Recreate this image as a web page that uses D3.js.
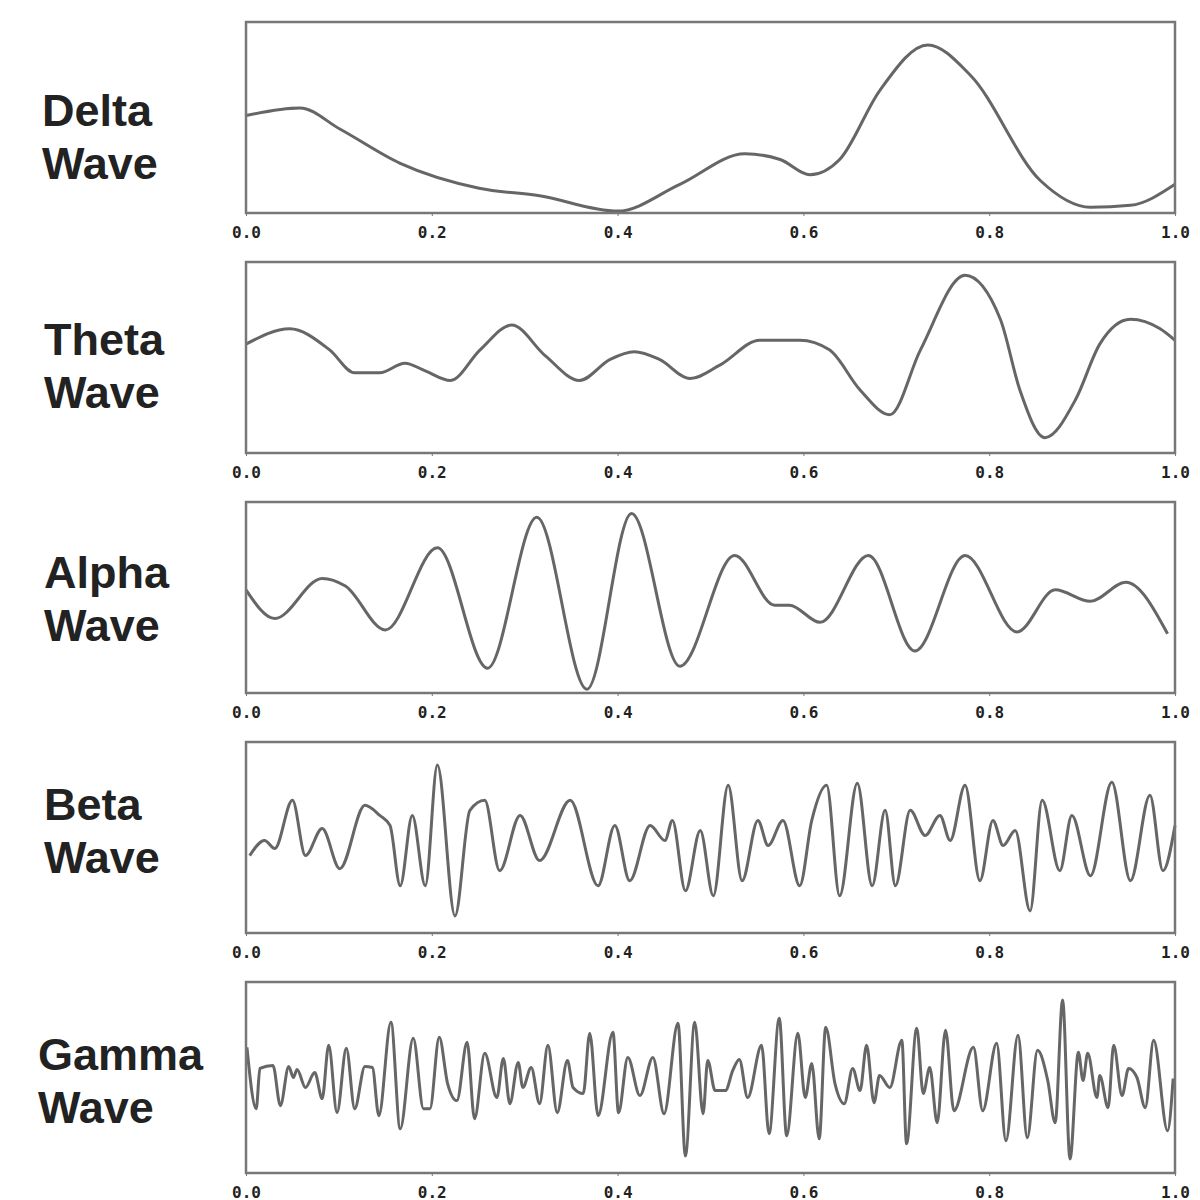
<!DOCTYPE html>
<meta charset="utf-8">
<script src="https://d3js.org/d3.v7.min.js"></script>
<style>
  body { margin: 0; background: #fff; }
  .name { font-family: "Liberation Sans", Arial, sans-serif; font-size: 45px; font-weight: bold; fill: #222; }
  .tick text { font-family: "DejaVu Sans Mono", monospace; font-weight: bold; font-size: 16px; fill: #222; }
</style>
<div id="chart"></div>
<script>
// time in ms (0..1000), amplitude in arbitrary units
var deltaPts = [[0,51],[58,55],[101,44],[166,26],[251,13],[316,9],[400,1],[467,15],[537,31],[575,28],[607,20],[639,28],[682,64],[734,88],[780,72],[855,17],[909,3],[952,4],[1000,15]];
var thetaPts = [[0,57],[47,65],[90,54],[117,42],[144,42],[171,47],[193,43],[220,38],[252,54],[286,67],[322,51],[359,38],[392,49],[418,53],[445,49],[478,39],[510,46],[553,59],[596,59],[628,54],[661,33],[693,20],[726,54],[774,93],[812,70],[833,33],[860,8],[893,28],[919,57],[952,70],[984,65],[1000,59]];
var alphaPts = [[0,54],[31,39],[82,60],[107,56],[150,33],[206,76],[260,13],[313,92],[367,2],[415,94],[467,14],[526,72],[569,46],[585,46],[618,37],[670,72],[720,22],[774,72],[830,32],[871,54],[909,48],[947,58],[992,31]];
var betaPts = [[4,-18],[20,-3],[31,-11],[50,37],[64,-18],[82,9],[101,-31],[128,32],[144,22],[155,12],[166,-48],[179,22],[193,-48],[206,72],[225,-78],[241,27],[257,37],[273,-33],[295,22],[316,-23],[349,37],[379,-48],[397,12],[413,-43],[435,12],[451,-3],[459,17],[473,-53],[489,7],[503,-58],[519,52],[534,-43],[551,17],[562,-8],[578,17],[596,-48],[609,17],[625,52],[639,-58],[658,54],[674,-48],[688,27],[699,-48],[715,27],[731,2],[747,22],[758,-3],[774,52],[790,-43],[804,17],[815,-8],[828,7],[844,-73],[857,37],[876,-33],[889,22],[909,-38],[932,55],[952,-43],[973,42],[987,-33],[1000,12]];
var gammaPts = [[1,30],[11,-31],[15,9],[29,12],[37,-28],[46,11],[51,0],[55,8],[64,-10],[74,5],[82,-21],[89,32],[98,-35],[108,29],[117,-31],[128,11],[136,10],[143,-38],[156,55],[166,-51],[180,39],[191,-31],[198,-31],[208,40],[217,-6],[227,-23],[238,35],[246,-41],[257,24],[270,-20],[277,19],[284,-26],[293,15],[298,-10],[307,10],[316,-26],[325,32],[335,-35],[346,17],[352,-10],[363,-16],[370,44],[379,-38],[395,45],[401,-35],[411,20],[424,-18],[438,20],[450,-36],[465,54],[473,-78],[483,55],[492,-36],[497,17],[505,-13],[516,-13],[524,7],[531,18],[540,-20],[555,32],[563,-56],[574,59],[582,-58],[594,44],[602,-20],[609,14],[617,-61],[624,50],[634,-6],[644,-26],[653,9],[661,-13],[668,32],[676,-25],[682,2],[693,-10],[706,37],[711,-66],[722,49],[729,-16],[736,10],[744,-45],[753,47],[762,-33],[783,30],[793,-33],[808,34],[818,-63],[831,42],[841,-60],[852,27],[863,-3],[871,-45],[879,77],[887,-81],[896,25],[901,-3],[906,24],[916,-20],[919,2],[928,-30],[934,32],[943,-18],[950,9],[959,0],[968,-30],[977,37],[992,-53],[998,-1]];

var waves = [
  {name: ["Delta", "Wave"], pts: deltaPts, dom: [0, 100], lx: 42, ly: 104},
  {name: ["Theta", "Wave"], pts: thetaPts, dom: [0, 100], lx: 44, ly: 93},
  {name: ["Alpha", "Wave"], pts: alphaPts, dom: [0, 100], lx: 44, ly: 86},
  {name: ["Beta", "Wave"], pts: betaPts, dom: [-95, 95], lx: 44, ly: 78},
  {name: ["Gamma", "Wave"], pts: gammaPts, dom: [-95, 95], lx: 38, ly: 88}
];
var tops = [22, 262, 502, 742, 982];

var svg = d3.select("#chart").append("svg")
  .attr("width", 1200).attr("height", 1200);

var x0 = 246, x1 = 1175, h = 191;
var x = d3.scaleLinear().domain([0, 1000]).range([x0, x1]);

waves.forEach(function(w, i) {
  var top = tops[i];
  var y = d3.scaleLinear().domain(w.dom).range([top + h, top]);

  svg.append("text").attr("class", "name").attr("x", w.lx).attr("y", top + w.ly).text(w.name[0]);
  svg.append("text").attr("class", "name").attr("x", w.lx).attr("y", top + w.ly + 53).text(w.name[1]);

  var ax = svg.append("g").attr("transform", "translate(0," + (top + h) + ")")
    .call(d3.axisBottom(x).tickValues([0, 200, 400, 600, 800, 1000])
      .tickFormat(function(d) { return (d / 1000).toFixed(1); }).tickSize(3).tickPadding(11));
  ax.select(".domain").remove();
  ax.selectAll("line").attr("stroke", "#777");

  svg.append("path").datum(w.pts)
    .attr("fill", "none").attr("stroke", "#666").attr("stroke-width", 3).attr("stroke-linejoin", "round")
    .attr("d", d3.line().x(function(d) { return x(d[0]); }).y(function(d) { return y(d[1]); }).curve(d3.curveMonotoneX));

  svg.append("rect").attr("x", x0).attr("y", top).attr("width", x1 - x0).attr("height", h)
    .attr("fill", "none").attr("stroke", "#777").attr("stroke-width", 2.5);
});
</script>
